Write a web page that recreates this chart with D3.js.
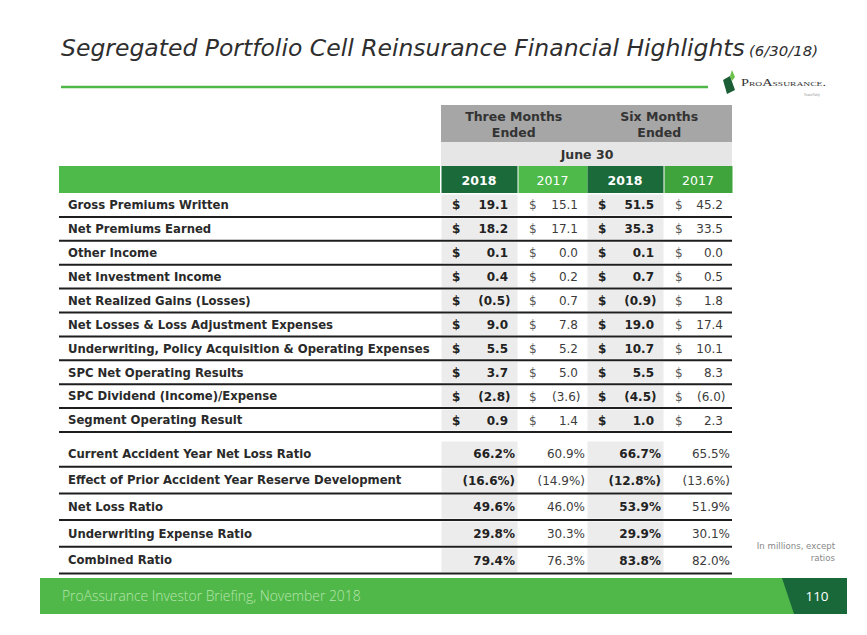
<!DOCTYPE html>
<html><head><meta charset="utf-8">
<script src="https://cdn.jsdelivr.net/npm/d3@7"></script>
<style>html,body{margin:0;padding:0;background:#fff;} svg{display:block;}</style>
</head><body><svg id="c" width="867" height="635"></svg>
<script>
// ---------- DATA ----------
const titleText = "Segregated Portfolio Cell Reinsurance Financial Highlights";
const titleDate = "(6/30/18)";
const periodLabels = ["Three Months Ended", "Six Months Ended"];
const subHeader = "June 30";
const yearLabels = ["2018", "2017", "2018", "2017"];
const moneyLabels = [
  "Gross Premiums Written",
  "Net Premiums Earned",
  "Other Income",
  "Net Investment Income",
  "Net Realized Gains (Losses)",
  "Net Losses & Loss Adjustment Expenses",
  "Underwriting, Policy Acquisition & Operating Expenses",
  "SPC Net Operating Results",
  "SPC Dividend (Income)/Expense",
  "Segment Operating Result"
];
const q2018   = [19.1, 18.2, 0.1, 0.4, -0.5,  9.0,  5.5, 3.7, -2.8, 0.9];
const q2017   = [15.1, 17.1, 0.0, 0.2,  0.7,  7.8,  5.2, 5.0, -3.6, 1.4];
const ytd2018 = [51.5, 35.3, 0.1, 0.7, -0.9, 19.0, 10.7, 5.5, -4.5, 1.0];
const ytd2017 = [45.2, 33.5, 0.0, 0.5,  1.8, 17.4, 10.1, 8.3, -6.0, 2.3];
const ratioLabels = [
  "Current Accident Year Net Loss Ratio",
  "Effect of Prior Accident Year Reserve Development",
  "Net Loss Ratio",
  "Underwriting Expense Ratio",
  "Combined Ratio"
];
const ratioQ2018   = [66.2, -16.6, 49.6, 29.8, 79.4];
const ratioQ2017   = [60.9, -14.9, 46.0, 30.3, 76.3];
const ratioYtd2018 = [66.7, -12.8, 53.9, 29.9, 83.8];
const ratioYtd2017 = [65.5, -13.6, 51.9, 30.1, 82.0];
const unitNote = ["In millions, except", "ratios"];
const footerText = "ProAssurance Investor Briefing, November 2018";
const pageNumber = "110";
const logoName = "ProAssurance.";
const logoTag = "Treated Fairly";

// ---------- LAYOUT ----------
const svg = d3.select("#c");
const FONT = "'DejaVu Sans', Verdana, sans-serif";
const colKeys = ["q18", "q17", "y18", "y17"];
const columns = [
  {key: "q18", money: q2018,   ratio: ratioQ2018,   bold: true,  head: "#1b6a3a"},
  {key: "q17", money: q2017,   ratio: ratioQ2017,   bold: false, head: "#4dba4a"},
  {key: "y18", money: ytd2018, ratio: ratioYtd2018, bold: true,  head: "#1b6a3a"},
  {key: "y17", money: ytd2017, ratio: ratioYtd2017, bold: false, head: "#40a43d"}
];
const xLeft  = d3.scaleOrdinal().domain(colKeys).range([441, 518, 587, 664]);
const xRight = d3.scaleOrdinal().domain(colKeys).range([517, 587, 663, 732]);
const xPeriod = d3.scaleBand().domain(periodLabels).range([441, 732]);
const yMoney = d3.scaleBand().domain(moneyLabels).range([193, 432]);
const yRatio = d3.scaleBand().domain(ratioLabels).range([440, 573.5]);
const tableLeft = 59, tableRight = 732;

function fitWidth(sel, target) {
  const w = sel.node().getComputedTextLength();
  const fs = parseFloat(sel.attr("font-size"));
  sel.attr("font-size", fs * target / w);
}
const f1 = d3.format(".1f");
const fmtMoney = v => v < 0 ? "(" + f1(-v) + ")" : f1(v);
const fmtRatio = v => v < 0 ? "(" + f1(-v) + "%)" : f1(v) + "%";

// ---------- TITLE ----------
const t = svg.append("text").attr("x", 61).attr("y", 56)
  .attr("font-family", FONT).attr("font-style", "italic").attr("font-size", 22)
  .attr("fill", "#2e2e2e").text(titleText);
fitWidth(t, 684);
const td = svg.append("text").attr("x", 749).attr("y", 56)
  .attr("font-family", FONT).attr("font-style", "italic").attr("font-size", 13.5)
  .attr("fill", "#2e2e2e").text(titleDate);
fitWidth(td, 69);
svg.append("line").attr("x1", 61).attr("x2", 708).attr("y1", 87).attr("y2", 87)
  .attr("stroke", "#4db848").attr("stroke-width", 2.5);

// logo
const logo = svg.append("g");
logo.append("path").attr("d", "M723,80 L730,76 L735,90 L727,94 Z").attr("fill", "#1b5e35");
logo.append("path").attr("d", "M730,76 L732,70 L735,77 L732,81 Z").attr("fill", "#6cc24a");
logo.append("text").attr("x", 741).attr("y", 86)
  .attr("font-family", "'Liberation Serif', 'DejaVu Serif', serif").attr("font-size", 10.5)
  .attr("font-variant", "small-caps").attr("fill", "#333")
  .attr("textLength", 85).attr("lengthAdjust", "spacingAndGlyphs").text(logoName);
logo.append("text").attr("x", 804).attr("y", 96)
  .attr("font-family", "'Liberation Serif', serif").attr("font-size", 5)
  .attr("fill", "#888").attr("textLength", 16).attr("lengthAdjust", "spacingAndGlyphs").text(logoTag);

// ---------- HEADER ----------
svg.append("rect").attr("x", 441).attr("y", 105).attr("width", 291).attr("height", 37).attr("fill", "#a6a6a6");
svg.append("rect").attr("x", 441).attr("y", 142).attr("width", 291).attr("height", 24).attr("fill", "#e6e6e6");
periodLabels.forEach(p => {
  const words = p.split(" ");
  const tx = svg.append("text").attr("text-anchor", "middle")
    .attr("font-family", FONT).attr("font-weight", "bold").attr("font-size", 12.5).attr("fill", "#333");
  const cx = xPeriod(p) + xPeriod.bandwidth() / 2;
  tx.append("tspan").attr("x", cx).attr("y", 121).text(words.slice(0, 2).join(" "));
  tx.append("tspan").attr("x", cx).attr("y", 136.5).text(words.slice(2).join(" "));
});
svg.append("text").attr("x", 587).attr("y", 159).attr("text-anchor", "middle")
  .attr("font-family", FONT).attr("font-weight", "bold").attr("font-size", 12.5).attr("fill", "#333").text(subHeader);

svg.append("rect").attr("x", tableLeft).attr("y", 166).attr("width", 440 - tableLeft).attr("height", 27).attr("fill", "#4dba4a");
columns.forEach((c, i) => {
  svg.append("rect").attr("x", xLeft(c.key) + 0.5).attr("y", 166)
    .attr("width", xRight(c.key) - xLeft(c.key)).attr("height", 27).attr("fill", c.head);
  svg.append("text").attr("x", (xLeft(c.key) + xRight(c.key)) / 2).attr("y", 184.5)
    .attr("text-anchor", "middle").attr("font-family", FONT).attr("font-size", 12.5)
    .attr("font-weight", c.bold ? "bold" : "normal").attr("fill", "#fff").text(yearLabels[i]);
});

// ---------- SHADING ----------
function shade(yScale, labels) {
  columns.filter(c => c.bold).forEach(c => {
    svg.selectAll(null).data(labels).enter().append("rect")
      .attr("x", xLeft(c.key) + 0.5).attr("width", xRight(c.key) - xLeft(c.key))
      .attr("y", d => yScale(d) + 1.5).attr("height", yScale.bandwidth() - 3)
      .attr("fill", "#ececec");
  });
}
shade(yMoney, moneyLabels);
shade(yRatio, ratioLabels);

// ---------- ROWS ----------
function rows(yScale, labels) {
  const bw = yScale.bandwidth();
  svg.selectAll(null).data(labels).enter().append("line")
    .attr("x1", tableLeft).attr("x2", tableRight)
    .attr("y1", d => yScale(d) + bw).attr("y2", d => yScale(d) + bw)
    .attr("stroke", "#1e1e1e").attr("stroke-width", 2);
  return svg.selectAll(null).data(labels).enter().append("text")
    .attr("x", 68).attr("y", d => yScale(d) + bw / 2 + 4.3)
    .attr("font-family", FONT).attr("font-weight", "bold").attr("font-size", 11)
    .attr("fill", "#2a2a2a").text(d => d);
}
const lab1 = rows(yMoney, moneyLabels);
const lab2 = rows(yRatio, ratioLabels);
// same label size for all rows, fitted to the longest label
const longest = lab1.filter(d => d === moneyLabels[6]);
const w0 = longest.node().getComputedTextLength();
const fsLab = 11 * 362 / w0;
lab1.attr("font-size", fsLab);
lab2.attr("font-size", fsLab);

// money values
columns.forEach(c => {
  const bw = yMoney.bandwidth();
  svg.selectAll(null).data(moneyLabels).enter().append("text")
    .attr("x", xLeft(c.key) + 11).attr("y", d => yMoney(d) + bw / 2 + 4.5)
    .attr("font-family", FONT).attr("font-size", 12)
    .attr("font-weight", c.bold ? "bold" : "normal")
    .attr("fill", c.bold ? "#222" : "#555").text("$");
  svg.selectAll(null).data(c.money).enter().append("text")
    .attr("x", d => xRight(c.key) - 9 + (d < 0 ? 2.5 : 0))
    .attr("y", (d, i) => yMoney(moneyLabels[i]) + bw / 2 + 4.5)
    .attr("text-anchor", "end").attr("font-family", FONT).attr("font-size", 12)
    .attr("font-weight", c.bold ? "bold" : "normal")
    .attr("fill", c.bold ? "#222" : "#3c3c3c").text(fmtMoney);
});
// ratio values
columns.forEach(c => {
  const bw = yRatio.bandwidth();
  svg.selectAll(null).data(c.ratio).enter().append("text")
    .attr("x", xRight(c.key) - 2)
    .attr("y", (d, i) => yRatio(ratioLabels[i]) + bw / 2 + 4.5)
    .attr("text-anchor", "end").attr("font-family", FONT).attr("font-size", 12)
    .attr("font-weight", c.bold ? "bold" : "normal")
    .attr("fill", c.bold ? "#222" : "#3c3c3c").text(fmtRatio);
});

// unit note
unitNote.forEach((s, i) => {
  svg.append("text").attr("x", 835).attr("y", 549 + i * 11.5).attr("text-anchor", "end")
    .attr("font-family", FONT).attr("font-size", 8.6).attr("fill", "#888").text(s);
});

// ---------- FOOTER ----------
svg.append("rect").attr("x", 40).attr("y", 578).attr("width", 807).attr("height", 36).attr("fill", "#50b848");
svg.append("path").attr("d", "M782,578 L847,578 L847,614 L794,614 Z").attr("fill", "#18683a");
const ft = svg.append("text").attr("x", 62).attr("y", 601)
  .attr("font-family", "'Open Sans', 'Liberation Sans', sans-serif").attr("font-weight", 300)
  .attr("font-size", 15).attr("fill", "#b6e4ae").text(footerText);
fitWidth(ft, 299);
svg.append("text").attr("x", 817).attr("y", 601).attr("text-anchor", "middle")
  .attr("font-family", "'Open Sans', sans-serif").attr("font-size", 13.5).attr("fill", "#fff").text(pageNumber);
</script></body></html>
